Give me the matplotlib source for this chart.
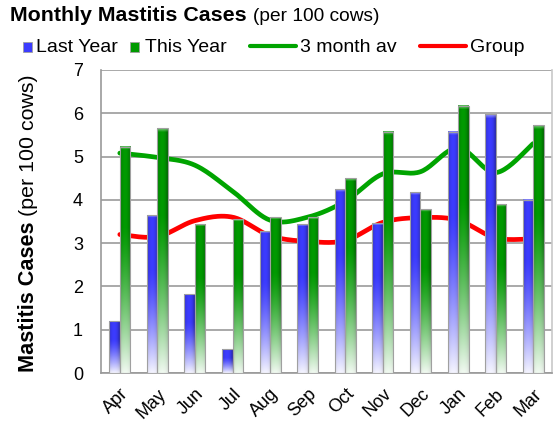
"""Monthly mastitis cases: last year vs this year bars with 3 month and group averages."""
import matplotlib
matplotlib.use('Agg')
import matplotlib.pyplot as plt
import numpy as np
from matplotlib.lines import Line2D
from matplotlib.patches import Rectangle
from matplotlib.colors import to_rgb

plt.rcParams['font.family'] = ['Liberation Sans', 'DejaVu Sans']

months = ['Apr', 'May', 'Jun', 'Jul', 'Aug', 'Sep', 'Oct', 'Nov', 'Dec', 'Jan', 'Feb', 'Mar']
last_year = [1.19, 3.65, 1.82, 0.55, 3.28, 3.44, 4.24, 3.46, 4.17, 5.57, 5.98, 4.00]
this_year = [5.23, 5.65, 3.44, 3.55, 3.60, 3.60, 4.50, 5.57, 3.78, 6.17, 3.90, 5.72]
three_month_av = [5.08, 4.98, 4.80, 4.20, 3.53, 3.60, 3.97, 4.60, 4.65, 5.20, 4.63, 5.30]
group_av = [3.20, 3.15, 3.52, 3.60, 3.17, 3.04, 3.06, 3.48, 3.59, 3.53, 3.12, 3.10]
y_ticks = [0, 1, 2, 3, 4, 5, 6, 7]

BLUE = '#3c3cff'
GREEN = '#009a00'
LINE_GREEN = '#00a400'
RED = '#ff0000'
GRID = '#a3a3a3'


def smooth(xs, ys, steps=24):
    """ Bezier smoothing like a spreadsheet 'smoothed line' (curve passes through every point). """
    p = np.column_stack([xs, ys]).astype(float)
    ext = np.vstack([p[0], p, p[-1]])
    out = [p[:1]]
    tt = np.linspace(0, 1, steps)[1:, None]
    for i in range(len(p) - 1):
        p0, p3 = ext[i + 1], ext[i + 2]
        c1 = p0 + (ext[i + 2] - ext[i]) / 6
        c2 = p3 - (ext[i + 3] - ext[i + 1]) / 6
        seg = ((1 - tt) ** 3) * p0 + 3 * ((1 - tt) ** 2) * tt * c1 + 3 * (1 - tt) * tt ** 2 * c2 + tt ** 3 * p3
        out.append(seg)
    curve = np.vstack(out)
    return curve[:, 0], curve[:, 1]


def bar_image(color, ny=90, nx=24):
    """ Vertical fade to white plus a cylinder-like horizontal shading. """
    base = np.array(to_rgb(color))
    u = (np.arange(nx) + 0.5) / nx
    t = (np.arange(ny) + 0.5) / ny
    shade = 0.72 + 0.28 * np.sin(np.pi * np.clip(u * 1.1, 0, 1)) ** 0.5
    fade = np.clip((t - 0.35) / 0.65, 0, 1) ** 1.3 * 0.95
    img = base[None, None, :] * shade[None, :, None]
    img = img + (1 - img) * fade[:, None, None]
    edge = 0.86 + 0.14 * np.sin(np.pi * u) ** 0.3
    img = img * edge[None, :, None]
    # light rim at the very top
    img[0] = img[0] + (1 - img[0]) * 0.35
    return np.clip(img, 0, 1)


fig = plt.figure(figsize=(5.58, 4.28), dpi=100)
ax = fig.add_axes([101 / 558, 55 / 428, 451 / 558, 303 / 428])

x = np.arange(len(months))
w = 0.28

# lines sit behind the bars
sx, sy = smooth(x, three_month_av)
ax.plot(sx, sy, color=LINE_GREEN, lw=3.4, solid_capstyle='round', zorder=2)
sx, sy = smooth(x, group_av)
ax.plot(sx, sy, color=RED, lw=3.4, solid_capstyle='round', zorder=2)

for values, offset, color in [(last_year, -w / 2, BLUE), (this_year, w / 2, GREEN)]:
    bars = ax.bar(x + offset, values, width=w, facecolor='none', edgecolor='#a0a0a0',
                  linewidth=0.8, zorder=4)
    img = bar_image(color)
    for patch in bars.patches:
        x0, h = patch.get_x(), patch.get_height()
        ax.imshow(img, extent=(x0, x0 + patch.get_width(), 0, h), aspect='auto',
                  interpolation='bilinear', zorder=3)

ax.set_xlim(-0.5, len(months) - 0.5)
ax.set_ylim(0, 7)
ax.set_yticks(y_ticks)
ax.set_xticks(x)
ax.set_xticklabels(months, rotation=45, ha='right', va='top', rotation_mode='anchor')
ax.tick_params(axis='both', length=0, labelsize=13, colors='black')
ax.tick_params(axis='y', pad=13)
ax.tick_params(axis='x', pad=9)
ax.set_axisbelow(True)
ax.grid(axis='y', color=GRID, lw=1.3)
ax.spines['top'].set_visible(False)
ax.spines['left'].set_color('#999999')
ax.spines['bottom'].set_color('#999999')
ax.spines['right'].set_color('#c8c8c8')
for s in ax.spines.values():
    s.set_linewidth(1.2)

# title: bold part followed by regular part
fig.canvas.draw()
renderer = fig.canvas.get_renderer()
t1 = fig.text(10 / 558, 1 - 21 / 428, 'Monthly Mastitis Cases', fontsize=15.4,
              fontweight='bold', va='baseline', ha='left')
bb = t1.get_window_extent(renderer)
fig.text((bb.x1 + 6) / 558, 1 - 21 / 428, '(per 100 cows)', fontsize=13.8,
         va='baseline', ha='left')

# y label: bold part then regular part, rotated
yl1 = fig.text(39 / 558, 56 / 428, 'Mastitis Cases', fontsize=15.6, fontweight='bold',
               rotation=90, ha='right', va='bottom')
bb = yl1.get_window_extent(renderer)
fig.text(38 / 558, (bb.y1 + 5) / 428, '(per 100 cows)', fontsize=15.4,
         rotation=90, ha='right', va='bottom')

# legend row drawn by hand (the last entry runs off the right edge in the original)
ly = 1 - 47 / 428
for x0, color in [(23, BLUE), (130, GREEN)]:
    fig.patches.append(Rectangle((x0 / 558, ly - 5 / 428), 9 / 558, 10 / 428,
                                 transform=fig.transFigure, facecolor=color,
                                 edgecolor='#a0a0a0', linewidth=0.6))
for x0, x1, color in [(250, 296, LINE_GREEN), (420, 466, RED)]:
    fig.lines.append(Line2D([x0 / 558, x1 / 558], [ly + 1 / 428, ly + 1 / 428],
                            transform=fig.transFigure, color=color, lw=3.0,
                            solid_capstyle='round'))
for x0, label in [(36, 'Last Year'), (145, 'This Year'), (300, '3 month av'), (470, 'Group')]:
    fig.text(x0 / 558, ly, label, fontsize=14.0, va='center', ha='left')

fig.savefig('out.png', dpi=100)
